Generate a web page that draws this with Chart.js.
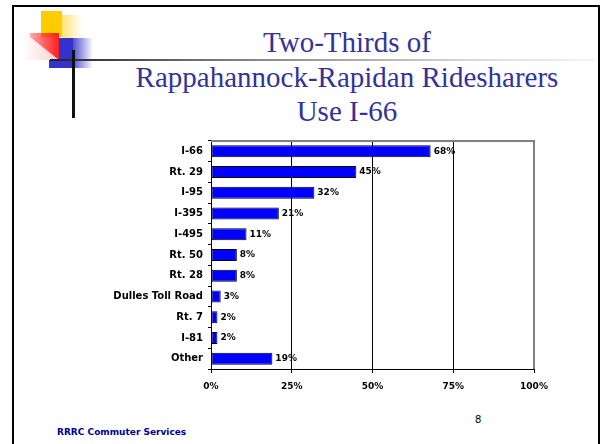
<!DOCTYPE html>
<html>
<head>
<meta charset="utf-8">
<script src="https://cdn.jsdelivr.net/npm/chart.js@4"></script>
<style>
  body{margin:0;width:602px;height:444px;background:#fff;position:relative;overflow:hidden;font-family:'DejaVu Sans',sans-serif;}
  .abs{position:absolute;}
  #frame{left:12px;top:5px;width:584px;height:460px;border:2px solid #000;}
  #title{left:100px;width:494px;top:25px;text-align:center;font-family:'Liberation Serif',serif;font-size:29px;line-height:34.5px;color:#333399;}
  #footer{left:57px;top:427px;font-size:9px;font-weight:bold;color:#000099;}
  #pageno{left:475px;top:414px;font-size:10px;color:#000;}
  #wrap{left:100px;top:130px;width:460px;height:280px;}
</style>
</head>
<body>
<div id="frame" class="abs"></div>

<!-- corner ornament -->
<div class="abs" style="left:41px;top:11px;width:21px;height:26px;background:#ffcc00"></div>
<div class="abs" style="left:62px;top:15px;width:20px;height:23px;background:linear-gradient(to right,rgba(255,204,0,.55),rgba(255,204,0,0))"></div>
<div class="abs" style="left:22px;top:33px;width:37px;height:27px;background:linear-gradient(to right,rgba(255,60,60,0),rgba(255,60,60,.25))"></div>
<div class="abs" style="left:30px;top:33px;width:29px;height:27px;background:linear-gradient(to left,#ff2020,rgba(255,40,40,.35));clip-path:polygon(0 0,100% 0,100% 100%,0 15%)"></div>
<div class="abs" style="left:59px;top:38px;width:14px;height:22px;background:#3333cc"></div>
<div class="abs" style="left:73px;top:38px;width:20px;height:30px;background:linear-gradient(to right,rgba(51,51,204,.85),rgba(51,51,204,0))"></div>
<div class="abs" style="left:49px;top:60px;width:25px;height:8px;background:#3333cc"></div>
<div class="abs" style="left:50px;top:59px;width:545px;height:2px;background:linear-gradient(to right,#222,#777 30%,#ddd 80%,#f4f4f4)"></div>
<div class="abs" style="left:72px;top:50px;width:3px;height:68px;background:#111"></div>

<div id="title" class="abs">Two-Thirds of<br>Rappahannock-Rapidan Ridesharers<br>Use I-66</div>

<div id="wrap" class="abs"><canvas id="chart"></canvas></div>

<div id="pageno" class="abs">8</div>
<div id="footer" class="abs">RRRC Commuter Services</div>

<script>
const categories = ['I-66','Rt. 29','I-95','I-395','I-495','Rt. 50','Rt. 28','Dulles Toll Road','Rt. 7','I-81','Other'];
const shares = [68,45,32,21,11,8,8,3,2,2,19];
const tickValues = [0,25,50,75,100];

Chart.defaults.font.family = "'DejaVu Sans', sans-serif";
Chart.defaults.font.size = 9;
Chart.defaults.font.weight = 'bold';
Chart.defaults.color = '#000';

// percent labels at the end of each bar
const barLabels = {
  id:'barLabels',
  afterDatasetsDraw(chart){
    const ctx = chart.ctx;
    const meta = chart.getDatasetMeta(0);
    ctx.save();
    ctx.font = "bold 9px 'DejaVu Sans', sans-serif";
    ctx.fillStyle = '#000';
    ctx.textAlign = 'left';
    ctx.textBaseline = 'middle';
    meta.data.forEach((bar,i)=>{
      ctx.fillText(shares[i]+'%', bar.x+3, bar.y);
    });
    ctx.restore();
  }
};

// grey top and right edge of the plot
const plotEdge = {
  id:'plotEdge',
  afterDraw(chart){
    const a = chart.chartArea, ctx = chart.ctx;
    ctx.save();
    ctx.strokeStyle = '#808080';
    ctx.lineWidth = 2;
    ctx.beginPath();
    ctx.moveTo(a.left, a.top);
    ctx.lineTo(a.right, a.top);
    ctx.lineTo(a.right, a.bottom);
    ctx.stroke();
    ctx.restore();
  }
};

new Chart(document.getElementById('chart'),{
  type:'bar',
  data:{
    labels: categories,
    datasets:[{
      data: shares,
      backgroundColor:'#0000ff',
      borderColor:'#000',
      borderWidth:1,
      borderSkipped:false,
      barPercentage:0.58,
      categoryPercentage:1
    }]
  },
  options:{
    indexAxis:'y',
    responsive:true,
    maintainAspectRatio:false,
    animation:false,
    layout:{padding:{top:10,right:26,left:0,bottom:0}},
    plugins:{legend:{display:false},tooltip:{enabled:false}},
    scales:{
      x:{
        min:0, max:100,
        afterBuildTicks(s){ s.ticks = tickValues.map(v=>({value:v})); },
        afterFit(s){ s.height = 41; },
        ticks:{callback:v=>v+'%', padding:8, maxRotation:0},
        grid:{color:c=>c.tick && c.tick.value===100 ? '#808080' : '#000', lineWidth:1, tickLength:4, tickColor:'#000'},
        border:{color:'#000', width:1}
      },
      y:{
        afterFit(s){ s.width = 111; },
        ticks:{padding:5, autoSkip:false, font:{size:10, weight:'bold'}},
        grid:{drawOnChartArea:false, tickLength:3, tickColor:'#000'},
        border:{color:'#000', width:1}
      }
    }
  },
  plugins:[barLabels, plotEdge]
});
</script>
</body>
</html>
